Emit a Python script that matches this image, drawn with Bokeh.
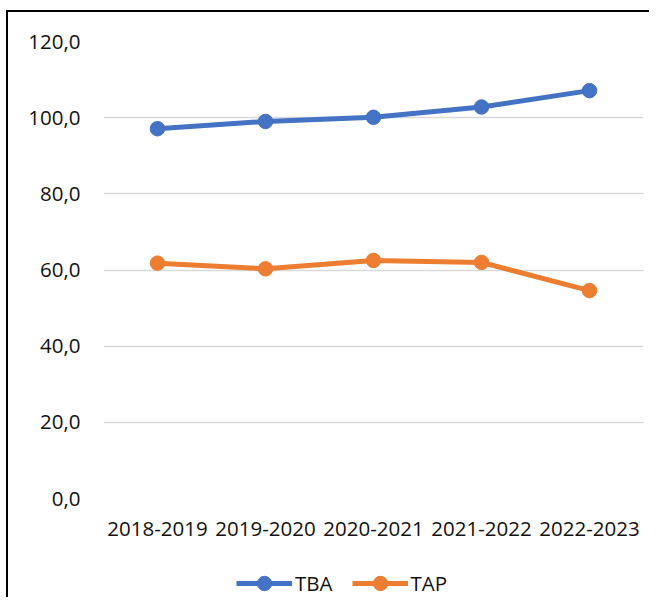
from bokeh.plotting import figure
from bokeh.layouts import column
from bokeh.models import FactorRange, FixedTicker, Legend, LegendItem, Range1d
from bokeh.embed import file_html
from bokeh.resources import INLINE

categories = ["2018-2019", "2019-2020", "2020-2021", "2021-2022", "2022-2023"]
tba = [97.1, 99.0, 100.1, 102.8, 107.1]
tap = [61.8, 60.3, 62.5, 62.0, 54.6]
y_ticks = [0, 20, 40, 60, 80, 100, 120]
y_tick_labels = ["0,0", "20,0", "40,0", "60,0", "80,0", "100,0", "120,0"]

BLUE = "#4472C4"
ORANGE = "#ED7D31"
FONT = "Open Sans"
FS = "20.5px"
LW = 5
MS = 14.5

# ---- main chart ----
p = figure(width=643, height=540, x_range=FactorRange(*categories, range_padding=0),
           y_range=Range1d(0, 120), output_backend="svg", toolbar_location=None,
           min_border_left=95, min_border_right=8, min_border_top=29, min_border_bottom=54)
p.styles = {"border-left": "2px solid black", "border-top": "2px solid black"}
p.outline_line_color = None
p.background_fill_color = "white"
p.border_fill_color = "white"

p.xgrid.grid_line_color = None
p.ygrid.grid_line_color = "#d9d9d9"
p.ygrid.grid_line_width = 1.5

p.yaxis.ticker = FixedTicker(ticks=y_ticks)
p.yaxis.major_label_overrides = {t: l for t, l in zip(y_ticks, y_tick_labels)}
for ax in (p.xaxis[0], p.yaxis[0]):
    ax.axis_line_color = None
    ax.major_tick_line_color = None
    ax.minor_tick_line_color = None
    ax.major_tick_out = 0
    ax.major_tick_in = 0
    ax.major_label_text_font = FONT
    ax.major_label_text_font_size = FS
    ax.major_label_text_color = "#111111"
p.yaxis.major_label_standoff = 23
p.xaxis.major_label_standoff = 23

p.line(categories, tba, line_color=BLUE, line_width=LW)
p.scatter(categories, tba, size=MS, fill_color=BLUE, line_color=BLUE)
p.line(categories, tap, line_color=ORANGE, line_width=LW)
p.scatter(categories, tap, size=MS, fill_color=ORANGE, line_color=ORANGE)

# ---- legend strip (same series, out of view, only the legend shows) ----
q = figure(width=643, height=47, x_range=FactorRange(*categories, range_padding=0),
           y_range=Range1d(1000, 1001), output_backend="svg", toolbar_location=None,
           x_axis_location=None, y_axis_location=None,
           min_border_left=0, min_border_right=0, min_border_top=0, min_border_bottom=0)
q.styles = {"border-left": "2px solid black"}
q.outline_line_color = None
q.grid.visible = False
q.background_fill_color = "white"
q.border_fill_color = "white"

ql1 = q.line(categories, tba, line_color=BLUE, line_width=LW)
qs1 = q.scatter(categories, tba, size=MS, fill_color=BLUE, line_color=BLUE)
ql2 = q.line(categories, tap, line_color=ORANGE, line_width=LW)
qs2 = q.scatter(categories, tap, size=MS, fill_color=ORANGE, line_color=ORANGE)

legend = Legend(items=[LegendItem(label="TBA", renderers=[ql1, qs1]),
                       LegendItem(label="TAP", renderers=[ql2, qs2])],
                orientation="horizontal", location=(133, -4),
                label_text_font=FONT, label_text_font_size=FS,
                label_text_color="#111111", glyph_width=56, glyph_height=36,
                label_standoff=3, spacing=19, padding=0, margin=0,
                border_line_color=None, background_fill_alpha=0)
q.add_layout(legend, "center")

root = column(p, q, spacing=0, styles={"padding-left": "6px", "padding-top": "10px"})
open("out.html", "w").write(file_html(root, INLINE))
